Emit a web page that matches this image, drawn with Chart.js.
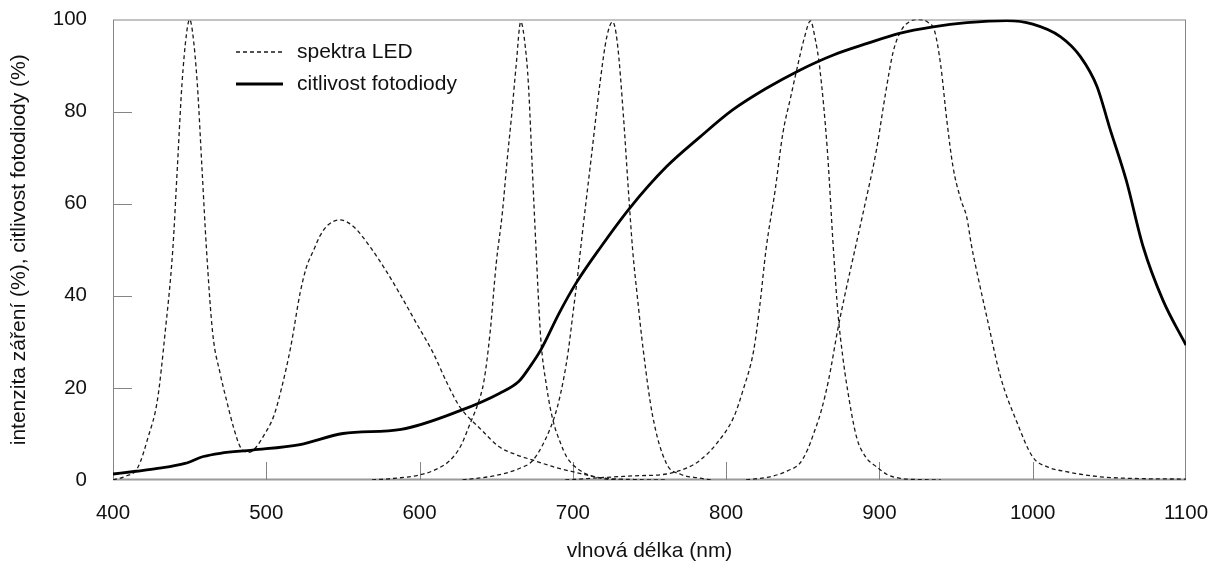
<!DOCTYPE html>
<html lang="cs">
<head>
<meta charset="utf-8">
<title>Spektra LED a citlivost fotodiody</title>
<script src="https://cdn.jsdelivr.net/npm/chart.js@4/dist/chart.umd.min.js"></script>
<style>
    html, body { margin: 0; padding: 0; background: #fff; }
    #graf { display: block; }
</style>
</head>
<body>
<canvas id="graf" width="1211" height="562"></canvas>
<script>
// citlivost fotodiody (%)
const wlDioda = [400, 415, 429, 447, 459, 470, 491, 522, 550, 588, 626, 652, 665, 672, 679, 691, 702, 718, 737, 761, 783, 804, 826, 848, 870, 892, 913, 935, 957, 983, 1000, 1018, 1031, 1042, 1050, 1061, 1072, 1085, 1100];
const citlivost = [1.3, 1.9, 2.5, 3.6, 5.1, 5.8, 6.5, 7.7, 10.1, 11.0, 15, 18.8, 21.5, 24.6, 28.2, 36.2, 42.7, 50.5, 59, 68, 74.5, 80.3, 85, 89, 92.3, 94.8, 97, 98.4, 99.3, 99.75, 99, 96.3, 92, 85.4, 76.7, 65.1, 50.7, 39, 29.3];

// bila LED (modry cip + luminofor)
const wlBila = [400, 408, 416, 423, 429, 434, 439, 442, 445, 448, 450, 452, 455, 458, 461, 465, 470, 474, 479, 483, 486, 489, 493, 499, 505, 510, 516, 522, 526, 531, 535, 540, 548, 557, 568, 578, 587, 598, 609, 618, 626, 640, 652, 663, 674, 688, 700, 718, 740, 760];
const bila = [0, 0.8, 2.6, 9.4, 17.4, 32, 50, 68, 86, 97, 100, 97, 86, 68, 50, 32, 23, 17.4, 11, 7.2, 6.2, 6.0, 7.0, 10, 14, 20, 29, 40.5, 46, 50, 53, 55.3, 56.5, 55, 50.5, 45.5, 40.5, 34, 27.5, 21, 16, 11, 7.2, 5.5, 4.3, 2.8, 1.8, 0.5, 0.1, 0];

// cervena LED 665 nm
const wl665 = [569, 585, 600, 610, 620, 627, 633, 638, 642, 646, 650, 654, 657, 660, 663, 666, 669, 671, 673.5, 676, 679, 683, 687, 692, 696, 705, 718, 730];
const led665 = [0, 0.4, 1.1, 2.2, 4.3, 7.5, 12.3, 16.5, 21.5, 32, 47, 58, 69, 79, 90, 99.5, 94, 86, 68, 50, 31, 20, 13, 8, 5, 2, 0.4, 0];

// LED 725 nm
const wl725 = [628, 650, 665, 674, 685, 690, 694, 697, 700, 703, 706, 712, 718, 722, 726, 729, 733, 736, 739, 742, 746, 752, 761, 770, 783, 790];
const led725 = [0, 1, 2.5, 4.3, 11, 16, 22, 28, 36, 44, 53, 70, 87, 96, 99.5, 95, 79, 64, 50, 40, 28, 14, 3.6, 1.3, 0.4, 0];

// LED 855 nm
const wl855 = [695, 718, 740, 761, 775, 783, 794, 805, 811, 818, 822, 826, 832, 837, 842, 846, 851, 855, 858, 861, 866, 870, 873, 876, 879, 885, 891, 898, 905, 913, 925, 940];
const led855 = [0, 0.5, 0.9, 1.3, 2.7, 4.3, 8, 13.7, 19.5, 28.2, 38, 50, 63, 75.3, 83, 89, 96, 99.7, 96, 89.7, 71.7, 50, 36, 27, 20, 9.4, 5, 2.9, 1.2, 0.4, 0.1, 0];

// LED 925 nm
const wl925 = [813, 830, 840, 848, 853, 857, 862, 867, 873, 878, 884, 890, 898, 904, 909, 914, 920, 926, 932, 936, 940, 944, 948, 953, 957, 960, 965, 970, 979, 990, 1000, 1010, 1022, 1044, 1070, 1100];
const led925 = [0, 0.8, 2, 3.6, 6.5, 10, 15, 22, 33, 41, 50, 59, 71.6, 84, 93, 97.5, 99.6, 100, 99.3, 97.5, 90, 78, 68, 61, 57, 51, 43, 35.5, 22.4, 12.3, 5, 2.8, 1.8, 0.7, 0.3, 0.2];

const popisX = 'vlnová délka (nm)';
const popisY = 'intenzita záření (%), citlivost fotodiody (%)';
const legendaPolozky = ['spektra LED', 'citlivost fotodiody'];

Chart.defaults.font.family = "'Liberation Sans', Arial, sans-serif";
Chart.defaults.color = '#111';

function body(wl, hodnoty) {
    return wl.map((x, i) => ({ x: x, y: hodnoty[i] }));
}

function ledDataset(wl, hodnoty) {
    return {
        label: legendaPolozky[0],
        data: body(wl, hodnoty),
        borderColor: '#1a1a1a',
        borderWidth: 1.3,
        borderDash: [4, 3],
        pointRadius: 0,
        cubicInterpolationMode: 'monotone',
        order: 1
    };
}

// ramecek grafu a kratke znacky dovnitr
const ramecek = {
    id: 'ramecek',
    beforeDatasetsDraw(chart) {
        const { ctx, chartArea: a, scales: { x, y } } = chart;
        ctx.save();
        ctx.strokeStyle = '#858585';
        ctx.lineWidth = 1;
        ctx.strokeRect(a.left + 0.5, a.top + 0.5, a.width - 1, a.height - 1);
        ctx.strokeStyle = '#9a9a9a';
        ctx.lineWidth = 2;
        ctx.beginPath();
        ctx.moveTo(a.left, a.bottom - 0.5);
        ctx.lineTo(a.right, a.bottom - 0.5);
        ctx.stroke();

        ctx.strokeStyle = '#858585';
        ctx.lineWidth = 1;
        ctx.beginPath();
        x.ticks.forEach(t => {
            if (t.value <= x.min || t.value >= x.max) return;
            const px = Math.round(x.getPixelForValue(t.value)) + 0.5;
            ctx.moveTo(px, a.bottom);
            ctx.lineTo(px, a.bottom - 18);
        });
        y.ticks.forEach(t => {
            if (t.value <= y.min || t.value >= y.max) return;
            const py = Math.round(y.getPixelForValue(t.value)) + 0.5;
            ctx.moveTo(a.left, py);
            ctx.lineTo(a.left + 19, py);
        });
        ctx.stroke();
        ctx.restore();
    }
};

// legenda vlevo nahore uvnitr grafu
const legenda = {
    id: 'legenda',
    afterDraw(chart) {
        const { ctx, chartArea: a } = chart;
        ctx.save();
        ctx.font = "21px 'Liberation Sans', Arial, sans-serif";
        ctx.textBaseline = 'middle';
        ctx.fillStyle = '#111';
        legendaPolozky.forEach((nazev, i) => {
            const ds = chart.data.datasets.find(d => d.label === nazev);
            const yy = a.top + 32.5 + i * 32;
            const x0 = a.left + 123;
            ctx.strokeStyle = ds.borderColor;
            ctx.lineWidth = ds.borderWidth;
            ctx.setLineDash(ds.borderDash || []);
            ctx.beginPath();
            ctx.moveTo(x0, yy);
            ctx.lineTo(x0 + 47, yy);
            ctx.stroke();
            ctx.setLineDash([]);
            ctx.fillText(nazev, x0 + 61, yy);
        });
        ctx.restore();
    }
};

const config = {
    type: 'line',
    data: {
        datasets: [
            {
                label: legendaPolozky[1],
                data: body(wlDioda, citlivost),
                borderColor: '#000',
                borderWidth: 2.8,
                pointRadius: 0,
                cubicInterpolationMode: 'monotone',
                order: 0
            },
            ledDataset(wlBila, bila),
            ledDataset(wl665, led665),
            ledDataset(wl725, led725),
            ledDataset(wl855, led855),
            ledDataset(wl925, led925)
        ]
    },
    options: {
        responsive: false,
        animation: false,
        devicePixelRatio: 1,
        layout: {
            padding: { top: 19.5, right: 25, left: 0, bottom: 0 }
        },
        plugins: {
            legend: { display: false },
            tooltip: { enabled: false }
        },
        scales: {
            x: {
                type: 'linear',
                min: 400,
                max: 1100,
                grid: { display: false, drawTicks: false },
                border: { display: false },
                ticks: {
                    stepSize: 100,
                    padding: 21,
                    color: '#111',
                    font: { size: 20.5 },
                    callback: (v) => String(v)
                },
                title: {
                    display: true,
                    text: popisX,
                    color: '#111',
                    font: { size: 21 },
                    padding: { top: 0, bottom: -1.5 }
                },
                afterFit(scale) {
                    scale.height = 82;
                    scale.paddingLeft = 0;
                    scale.paddingRight = 0;
                }
            },
            y: {
                min: 0,
                max: 100,
                grid: { display: false, drawTicks: false },
                border: { display: false },
                ticks: {
                    stepSize: 20,
                    padding: 26,
                    color: '#111',
                    font: { size: 20.5 }
                },
                title: {
                    display: true,
                    text: popisY,
                    color: '#111',
                    font: { size: 21 },
                    padding: { top: 7, bottom: 0 }
                },
                afterFit(scale) {
                    scale.width = 113;
                    scale.paddingTop = 0;
                    scale.paddingBottom = 0;
                }
            }
        }
    },
    plugins: [ramecek, legenda]
};

const graf = new Chart(document.getElementById('graf'), config);
</script>
</body>
</html>
